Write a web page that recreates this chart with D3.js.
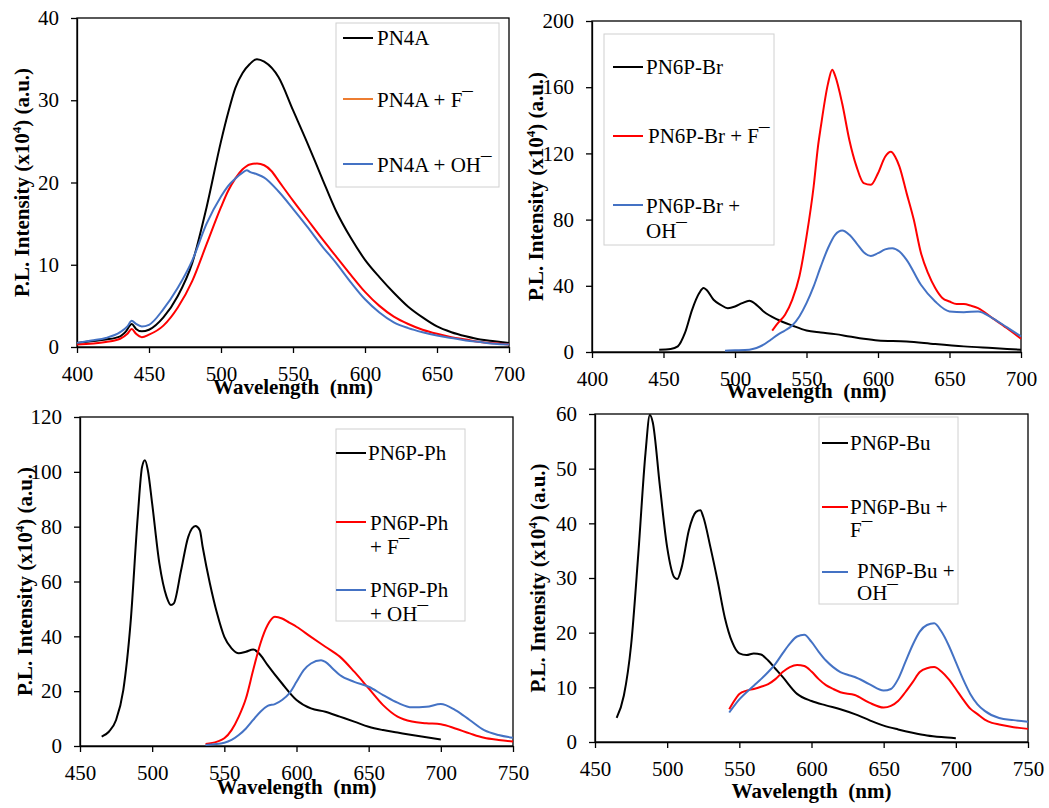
<!DOCTYPE html>
<html>
<head>
<meta charset="utf-8">
<script src="https://cdn.jsdelivr.net/npm/d3@7"></script>
</head>
<body style="margin:0;background:#fff">
<svg id="chart" width="1049" height="808"></svg>
<script>
// ---- data (wavelength nm, intensity x10^4) ----

// PN4A panel
var pn4aWl  = [400,410,420,430,434,438,441,445,450,460,470,480,490,500,505,510,515,520,525,530,540,550,560,570,580,590,600,610,620,630,640,650,660,670,680,690,700];
var pn4a    = [0.5,0.7,0.9,1.3,1.9,2.8,2.2,1.9,2.1,3.6,6.2,10.2,17,25,28.5,31.5,33.3,34.4,35,34.7,32.8,28.8,24.8,20.6,16.5,13.3,10.6,8.5,6.6,4.9,3.6,2.5,1.8,1.3,0.9,0.7,0.5];
var pn4aFWl = [400,420,430,435,438,441,445,450,460,470,480,490,500,505,510,515,520,525,530,535,540,550,560,570,580,590,600,610,620,630,640,650,660,670,680,690,700];
var pn4aF   = [0.3,0.6,1,1.6,2.2,1.6,1.2,1.5,2.6,4.8,8,12.5,17,19,20.5,21.6,22.2,22.3,22.1,21.4,20.2,17.8,15.5,13.2,11,8.8,6.7,5,3.7,2.8,2.1,1.6,1.2,0.9,0.6,0.45,0.3];
var pn4aOHWl = [400,410,420,430,435,438,441,445,450,460,470,480,490,500,505,510,515,518,520,525,530,540,550,560,570,580,590,600,610,620,630,640,650,660,670,680,690,700];
var pn4aOH   = [0.5,0.8,1.1,1.8,2.5,3.2,2.8,2.5,2.7,4.6,7.2,10.5,15,18.3,19.6,20.5,21.2,21.5,21.3,21,20.6,18.9,16.8,14.6,12.3,10.2,7.9,5.8,4.2,3,2.3,1.8,1.4,1.1,0.8,0.6,0.4,0.3];
var pn4aNames = [["PN4A"], ["PN4A + F\u00AF"], ["PN4A + OH\u00AF"]];

// PN6P-Br panel
var brWl  = [447,455,460,465,470,475,478,480,485,490,495,500,505,510,515,520,530,540,550,560,570,580,590,600,620,640,660,680,700];
var br    = [1.4,1.8,3.4,11.5,25.5,35.6,38.6,37.6,31.6,28.5,26.5,27.5,29.5,31,28.5,24.5,19.5,16,13,11.8,10.8,9.4,8,7,6.4,4.8,3.4,2.4,1.4];
var brFWl = [526,530,535,540,545,550,555,558,560,565,568,570,575,580,585,590,595,600,605,609,612,615,620,625,630,635,640,645,650,655,660,665,670,680,690,700];
var brF   = [12.9,17.5,22.5,31.5,45.6,69.7,100,124,136,162,170.6,167,150,128,112,102,101,108,118,121,118,112,96,80,60,47.6,38.6,32.6,30.5,29,29,28,26.5,20.5,14.5,8];
var brOHWl = [493,500,510,515,520,525,530,535,540,545,550,555,560,565,570,575,580,585,590,595,600,605,610,615,620,630,640,650,660,670,680,690,700];
var brOH   = [0.8,1,1.4,2.4,4.4,7.4,10.5,13,16,21.5,29.5,39.6,51.7,62.7,70.8,73.4,70.8,65.7,60.3,58,59.7,62,62.7,60.7,55.7,40.6,30.5,24.5,24,24.5,20.5,15,9.4];
var brNames = [["PN6P-Br"], ["PN6P-Br + F\u00AF"], ["PN6P-Br +", "OH\u00AF"]];

// PN6P-Ph panel
var phWl  = [465,470,475,480,485,490,493,495,497,500,505,510,513,515,520,525,530,533,535,540,545,550,555,560,565,570,575,580,590,600,610,620,630,640,650,660,670,680,690,700];
var ph    = [3.4,5.2,9.5,20.4,44.7,83.6,101.8,104.2,100.6,88.4,66.6,54.4,51.4,52,64,76.3,80.2,78.7,72.6,59.3,48.3,39.8,35.6,33.8,34.4,35.2,33.2,29.5,22.8,16.8,13.7,12.5,10.7,8.9,7,5.8,4.9,4,3.2,2.4];
var phFWl = [537,545,550,555,560,565,570,575,580,585,590,595,600,610,620,630,640,650,660,670,680,690,700,710,720,730,740,750];
var phF   = [0.7,1.6,2.8,5.8,10.7,17.4,27.7,37.4,44.1,47.1,46.5,45,43.5,39.8,36.2,32.6,27.1,21,14.9,10.7,8.9,8.3,7.9,6.4,4.6,3,2.2,1.6];
var phOHWl = [537,550,555,560,565,570,575,580,585,590,595,600,605,610,617,620,625,630,640,650,660,670,680,690,700,710,720,730,740,750];
var phOH   = [0.4,1.2,2.2,4,6.4,9.5,12.5,14.6,15.3,16.8,19.2,23.4,27.7,30.1,31.3,30.7,28.3,25.9,23.4,21.6,18.6,15.8,14.1,14.3,15.3,13.1,9.5,5.8,4,3];
var phNames = [["PN6P-Ph"], ["PN6P-Ph", "+ F\u00AF"], ["PN6P-Ph", "+ OH\u00AF"]];

// PN6P-Bu panel
var buWl  = [465,470,475,480,485,488,490,495,500,505,507,510,515,520,523,525,530,535,540,545,550,555,560,565,570,575,580,590,600,610,620,630,640,650,660,670,680,690,700];
var bu    = [4.4,8.5,17.7,34.4,52.9,59.8,58.5,46.7,35.6,30.1,29.8,31.9,38.7,42.1,42.4,41.2,35.6,29.4,22.7,18.3,16.2,15.9,16.2,16,14.9,13.4,11.9,8.8,7.5,6.7,6,5.1,4,3,2.3,1.7,1.2,0.9,0.7];
var buFWl = [543,545,550,555,560,565,570,575,580,585,590,595,600,605,610,615,620,630,640,650,655,660,665,670,675,680,685,690,695,700,705,710,715,720,725,730,740,750];
var buF   = [6,6.9,8.8,9.4,9.7,10.1,10.6,11.5,12.8,13.7,14.1,13.9,12.9,11.5,10.4,9.7,9.1,8.6,7.2,6.3,6.6,7.5,9.1,10.9,12.8,13.5,13.7,12.9,11.5,9.7,7.8,6.1,5.1,4.1,3.5,3.2,2.7,2.4];
var buOHWl = [543,550,560,565,570,575,580,585,590,595,600,605,610,615,620,625,630,640,650,655,660,665,670,675,680,685,690,695,700,705,710,715,720,730,740,750];
var buOH   = [5.4,7.8,10.3,11.5,12.8,14.3,16.2,18,19.3,19.6,18.3,16.5,14.9,13.7,12.8,12.3,11.9,10.6,9.4,9.7,11.5,14.6,17.7,20.2,21.4,21.7,20.2,17.7,14.6,11.5,8.8,6.9,5.7,4.4,4,3.7];
var buNames = [["PN6P-Bu"], ["PN6P-Bu +", "F\u00AF"], ["PN6P-Bu +", "OH\u00AF"]];

// ---- layout ----
var BLACK = "#000000", RED = "#FF0000", BLUE = "#4472C4", ORANGE = "#ED7D31";
var FONT = "Liberation Serif";
var FS = 21;

var panels = [
  { left: 77, right: 509, top: 18, bottom: 347, xDom: [400, 700], yMax: 40, yStep: 10,
    xTitleY: 394, yTitleX: 29,
    series: [[pn4aWl, pn4a, BLACK], [pn4aFWl, pn4aF, RED], [pn4aOHWl, pn4aOH, BLUE]],
    names: pn4aNames, legendColors: [BLACK, ORANGE, BLUE],
    legend: { x: 336, y: 23, w: 163, h: 164, lineX: [343, 373],
      entries: [ { ly: 38, tx: 377, ty: [45] }, { ly: 99, tx: 377, ty: [107] }, { ly: 164, tx: 377, ty: [172] } ] } },
  { left: 592, right: 1021, top: 21, bottom: 352, xDom: [400, 700], yMax: 200, yStep: 40,
    xTitleY: 398, yTitleX: 543,
    series: [[brWl, br, BLACK], [brFWl, brF, RED], [brOHWl, brOH, BLUE]],
    names: brNames, legendColors: [BLACK, RED, BLUE],
    legend: { x: 604, y: 34, w: 170, h: 211, lineX: [613, 643],
      entries: [ { ly: 67, tx: 646, ty: [74] }, { ly: 136, tx: 648, ty: [143] }, { ly: 205, tx: 646, ty: [213, 238] } ] } },
  { left: 80, right: 513, top: 417, bottom: 746, xDom: [450, 750], yMax: 120, yStep: 20,
    xTitleY: 794, yTitleX: 32,
    series: [[phWl, ph, BLACK], [phFWl, phF, RED], [phOHWl, phOH, BLUE]],
    names: phNames, legendColors: [BLACK, RED, BLUE],
    legend: { x: 336, y: 429, w: 129, h: 192, lineX: [336, 366],
      entries: [ { ly: 453, tx: 368, ty: [460] }, { ly: 522, tx: 370, ty: [530, 554] }, { ly: 590, tx: 370, ty: [597, 621] } ] } },
  { left: 595, right: 1028, top: 414, bottom: 742, xDom: [450, 750], yMax: 60, yStep: 10,
    xTitleY: 798, yTitleX: 545,
    series: [[buWl, bu, BLACK], [buFWl, buF, RED], [buOHWl, buOH, BLUE]],
    names: buNames, legendColors: [BLACK, RED, BLUE],
    legend: { x: 819, y: 417, w: 139, h: 187, lineX: [822, 848],
      entries: [ { ly: 443, tx: 850, ty: [450] }, { ly: 507, tx: 850, ty: [514, 537] }, { ly: 572, tx: 857, ty: [578, 600] } ] } }
];

var svg = d3.select("#chart").style("font-family", FONT);
svg.append("rect").attr("width", 1049).attr("height", 808).attr("fill", "#fff");

panels.forEach(function(p, pi) {
  var x = d3.scaleLinear().domain(p.xDom).range([p.left, p.right]);
  var y = d3.scaleLinear().domain([0, p.yMax]).range([p.bottom, p.top]);
  var g = svg.append("g");

  // x axis
  var xa = g.append("g")
      .attr("transform", "translate(0," + p.bottom + ")")
      .call(d3.axisBottom(x).tickValues(d3.range(p.xDom[0], p.xDom[1] + 1, 50))
        .tickSize(6).tickSizeOuter(0).tickPadding(13).tickFormat(d3.format("d")));
  // y axis
  var ya = g.append("g")
      .attr("transform", "translate(" + p.left + ",0)")
      .call(d3.axisLeft(y).tickValues(d3.range(0, p.yMax + 1, p.yStep))
        .tickSize(6).tickSizeOuter(0).tickPadding(12).tickFormat(d3.format("d")));
  [xa, ya].forEach(function(a) {
    a.attr("font-family", null).attr("font-size", null);
    a.selectAll("text").style("font-family", FONT).attr("font-size", FS).attr("fill", "#000");
    a.selectAll("line").attr("stroke", "#000").attr("stroke-width", 1.3);
    a.select(".domain").attr("stroke", "#000").attr("stroke-width", 1.3);
  });

  // frame
  g.append("rect")
      .attr("x", p.left).attr("y", p.top)
      .attr("width", p.right - p.left).attr("height", p.bottom - p.top)
      .attr("fill", "none").attr("stroke", "#000").attr("stroke-width", 1.3);

  // curves
  var line = d3.line()
      .x(function(d) { return x(d[0]); })
      .y(function(d) { return y(d[1]); })
      .curve(d3.curveMonotoneX);
  p.series.forEach(function(s) {
    var pts = s[0].map(function(w, i) { return [w, s[1][i]]; });
    g.append("path").datum(pts)
        .attr("d", line)
        .attr("fill", "none")
        .attr("stroke", s[2])
        .attr("stroke-width", 2)
        .attr("stroke-linejoin", "round");
  });

  // legend
  var L = p.legend;
  var clipId = "lgclip" + pi;
  g.append("clipPath").attr("id", clipId)
    .append("rect").attr("x", L.x).attr("y", L.y).attr("width", L.w).attr("height", L.h);
  g.append("rect")
      .attr("x", L.x).attr("y", L.y).attr("width", L.w).attr("height", L.h)
      .attr("fill", "#fff").attr("stroke", "#D0D0D0").attr("stroke-width", 1);
  var lg = g.append("g").attr("clip-path", "url(#" + clipId + ")");
  L.entries.forEach(function(e, i) {
    lg.append("line")
        .attr("x1", L.lineX[0]).attr("x2", L.lineX[1])
        .attr("y1", e.ly).attr("y2", e.ly)
        .attr("stroke", p.legendColors[i]).attr("stroke-width", 2);
    p.names[i].forEach(function(txt, j) {
      lg.append("text")
          .attr("x", e.tx).attr("y", e.ty[j])
          .style("font-family", FONT)
          .attr("font-size", FS).attr("fill", "#000")
          .text(txt);
    });
  });

  // axis titles
  g.append("text")
      .attr("x", (p.left + p.right) / 2).attr("y", p.xTitleY)
      .attr("text-anchor", "middle")
      .style("font-family", FONT)
      .attr("font-size", FS).attr("font-weight", "bold")
      .style("white-space", "pre")
      .text("Wavelength  (nm)");

  var yt = g.append("text")
      .attr("transform", "translate(" + p.yTitleX + "," + ((p.top + p.bottom) / 2) + ") rotate(-90)")
      .attr("text-anchor", "middle")
      .style("font-family", FONT)
      .attr("font-size", FS).attr("font-weight", "bold");
  yt.append("tspan").text("P.L. Intensity (x10");
  yt.append("tspan").attr("font-size", 13).attr("dy", -8).text("4");
  yt.append("tspan").attr("dy", 8).text(") (a.u.)");
});
</script>
</body>
</html>
